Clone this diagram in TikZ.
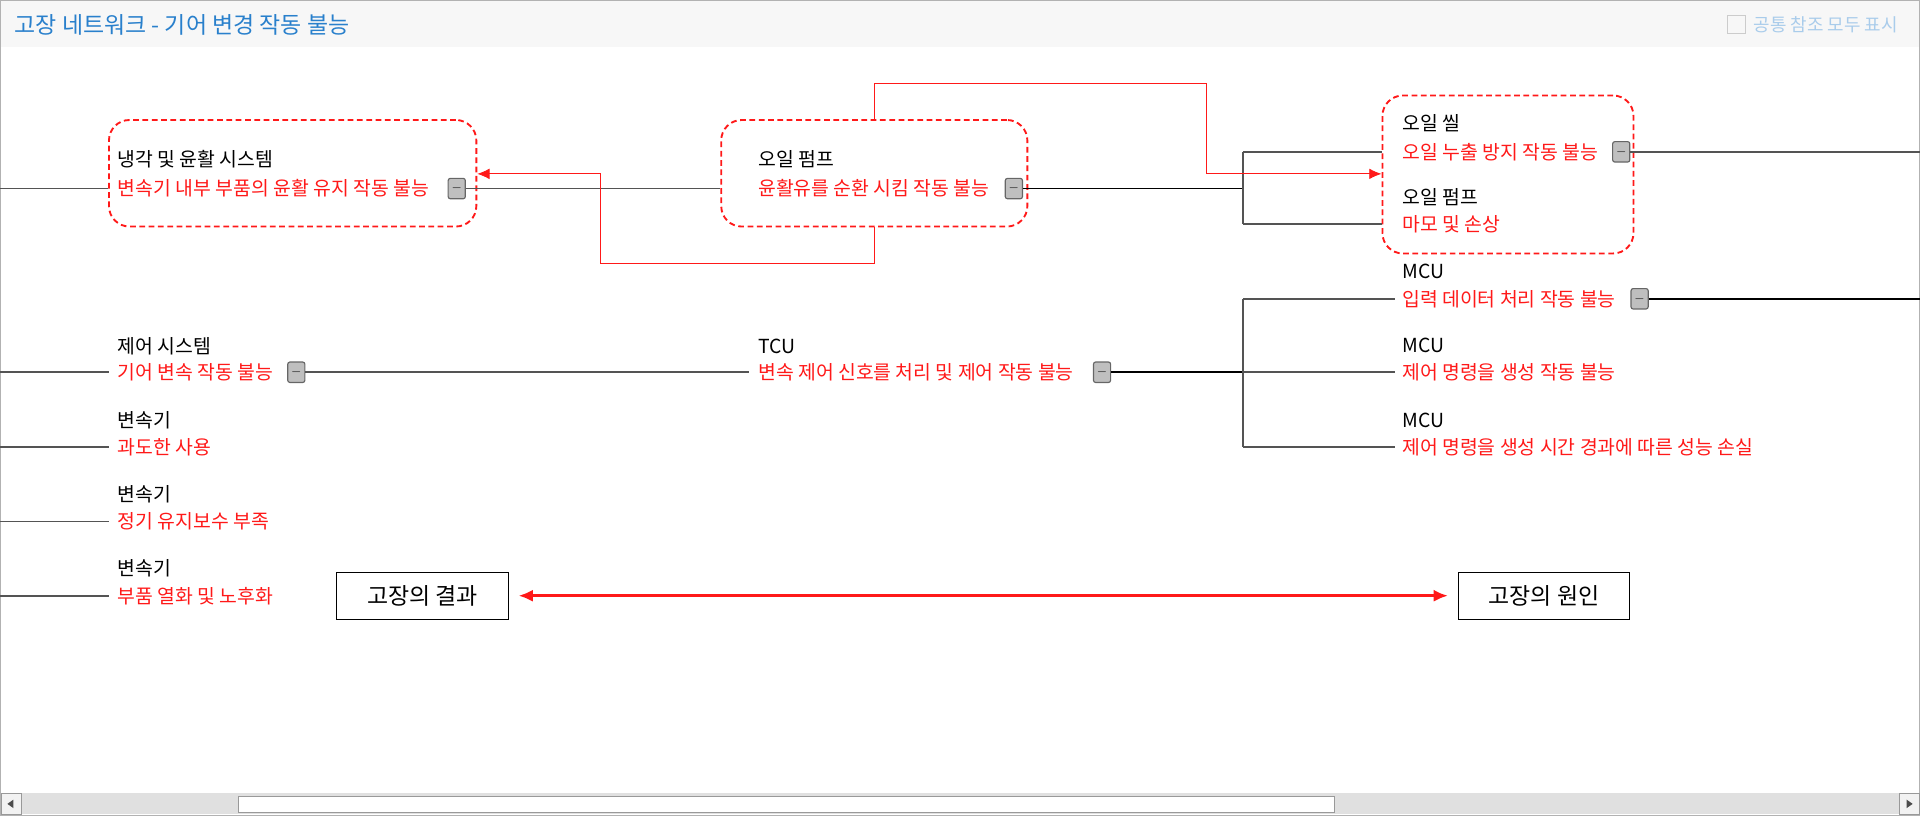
\documentclass[tikz,border=0pt]{standalone}
\usepackage{fontspec}
\setmainfont{Noto Sans CJK KR}
\usetikzlibrary{arrows.meta,positioning,calc}
\definecolor{titleblue}{rgb}{0.16, 0.50, 0.80}
\definecolor{linegray}{rgb}{0.33, 0.33, 0.33}
\definecolor{failred}{rgb}{1.0, 0.1, 0.1}
\tikzstyle{cmp} = [anchor=west, inner sep=0pt, font=\fontsize{13.5}{13.5}\selectfont, text=black]
\tikzstyle{fail} = [anchor=west, inner sep=0pt, font=\fontsize{13.5}{13.5}\selectfont, text=failred]
\tikzstyle{tgl} = [draw=black!60, fill=black!25, rounded corners=1.5pt, minimum width=4.2mm, minimum height=5mm, inner sep=0pt, font=\small, line width=0.8pt]
\tikzstyle{grp} = [draw=failred, dash pattern=on 4pt off 2.5pt, line width=1.3pt, rounded corners=5mm]
\tikzstyle{link} = [draw=linegray, line width=1.2pt]
\tikzstyle{ref} = [draw=failred, line width=0.6pt, -{Latex[length=3mm,width=2.6mm]}]
\tikzstyle{tag} = [draw=black, line width=0.9pt, minimum width=42mm, minimum height=11.5mm, font=\fontsize{16}{16}\selectfont, inner sep=0pt]
\begin{document}
\begin{tikzpicture}[x=0.3mm,y=-0.3mm]
\useasboundingbox (0,0) rectangle (1568,671);
% frame, title bar, scroll bar
\fill [black!3] (1,1) rectangle (1567,38);
\draw [black!30, line width=1pt] (0.5,0.5) rectangle (1567.5,666);
\node (title) [anchor=west, text=titleblue, font=\fontsize{16}{16}\selectfont] at (8,20) {고장 네트워크 - 기어 변경 작동 불능};
\node (chk) [draw=black!20, minimum size=4.5mm, inner sep=0pt] at (1418,20) {};
\node (showall) [anchor=west, text=titleblue!40, font=\fontsize{12.5}{12.5}\selectfont, inner sep=0pt] at (1432,20) {공통 참조 모두 표시};
\fill [black!12] (1,648) rectangle (1567,665);
\draw [black!40, fill=white] (195,650) rectangle (1090,663);
\draw [black!40, fill=black!5] (1,648) rectangle (17,665);
\draw [black!40, fill=black!5] (1551,648) rectangle (1567,665);
\fill [black!70] (6,656.5) -- (11,653) -- (11,660) -- cycle;
\fill [black!70] (1562,656.5) -- (1557,653) -- (1557,660) -- cycle;
%
% failure modes
\node (c1) [cmp] at (96,130) {냉각 및 윤활 시스템};
\node (f1) [fail] at (96,154) {변속기 내부 부품의 윤활 유지 작동 불능};
\node (t1) [tgl] at (373,154) {$-$};
\node (c2) [cmp] at (619,130) {오일 펌프};
\node (f2) [fail] at (619,154) {윤활유를 순환 시킴 작동 불능};
\node (t2) [tgl] at (828,154) {$-$};
\node (c3) [cmp] at (1145,101) {오일 씰};
\node (f3) [fail] at (1145,124) {오일 누출 방지 작동 불능};
\node (t3) [tgl] at (1324,124) {$-$};
\node (c4) [cmp] at (1145,161) {오일 펌프};
\node (f4) [fail] at (1145,183) {마모 및 손상};
\node (c5) [cmp] at (1145,222) {MCU};
\node (f5) [fail] at (1145,244) {입력 데이터 처리 작동 불능};
\node (t5) [tgl] at (1339,244) {$-$};
\node (c6) [cmp] at (1145,282) {MCU};
\node (f6) [fail] at (1145,304) {제어 명령을 생성 작동 불능};
\node (c7) [cmp] at (1145,343) {MCU};
\node (f7) [fail] at (1145,365) {제어 명령을 생성 시간 경과에 따른 성능 손실};
\node (c8) [cmp] at (96,283) {제어 시스템};
\node (f8) [fail] at (96,304) {기어 변속 작동 불능};
\node (t8) [tgl] at (242,304) {$-$};
\node (c9) [cmp] at (619,283) {TCU};
\node (f9) [fail] at (619,304) {변속 제어 신호를 처리 및 제어 작동 불능};
\node (t9) [tgl] at (900,304) {$-$};
\node (c10) [cmp] at (96,343) {변속기};
\node (f10) [fail] at (96,365) {과도한 사용};
\node (c11) [cmp] at (96,404) {변속기};
\node (f11) [fail] at (96,426) {정기 유지보수 부족};
\node (c12) [cmp] at (96,464) {변속기};
\node (f12) [fail] at (96,487) {부품 열화 및 노후화};
%
% dashed groups
\node (g1) [grp, minimum width=300*0.3mm, minimum height=87*0.3mm] at (239,141.5) {};
\node (g2) [grp, minimum width=250*0.3mm, minimum height=87*0.3mm] at (714,141.5) {};
\node (g3) [grp, minimum width=205*0.3mm, minimum height=129*0.3mm] at (1231.5,142.5) {};
%
% free ends
\coordinate (e1) at (0,154);
\coordinate (e8) at (0,304);
\coordinate (e10) at (0,365);
\coordinate (e11) at (0,426);
\coordinate (e12) at (0,487);
\coordinate (r3) at (1568,124);
\coordinate (r5) at (1568,244);
\coordinate (j1) at (1015,154);
\coordinate (j9) at (1015,304);
%
\draw [link] (e1) -- (g1.west |- f1.west);
\draw [link] (t1) -- (g2.west |- f2.west);
\draw [link, black] (t2) -- (j1);
\draw [link] (j1 |- f3) -- (j1 |- f4);
\draw [link] (j1 |- f3) -- (g3.west |- f3);
\draw [link] (j1 |- f4) -- (g3.west |- f4);
\draw [link] (t3) -- (r3);
\draw [link] (e8) -- ($(f8.west)+(-7,0)$);
\draw [link] (t8) -- ($(f9.west)+(-7,0)$);
\draw [link, black, line width=1.4pt] (t9) -- (j9);
\draw [link] (j9 |- f5) -- (j9 |- f7);
\draw [link] (j9 |- f5) -- ($(f5.west)+(-6,0)$);
\draw [link] (j9) -- ($(f6.west)+(-6,0)$);
\draw [link] (j9 |- f7) -- ($(f7.west)+(-6,0)$);
\draw [link, black, line width=1.6pt] (t5) -- (r5);
\draw [link] (e10) -- ($(f10.west)+(-7,0)$);
\draw [link] (e11) -- ($(f11.west)+(-7,0)$);
\draw [link] (e12) -- ($(f12.west)+(-7,0)$);
%
% references
\draw [ref] (g2.north) -- ++(0,-29) -| (985,142) -- (g3.west |- 0,142);
\draw [ref] (g2.south) -- ++(0,29) -| (490,142) -- (g1.east |- 0,142);
%
% legend
\node (effect) [tag] at (345,486.5) {고장의 결과};
\node (cause) [tag] at (1261,486.5) {고장의 원인};
\draw [failred, line width=2pt, {Latex[length=3.5mm,width=3mm]}-{Latex[length=3.5mm,width=3mm]}] ($(effect.east)+(8,0)$) -- ($(cause.west)+(-8,0)$);
\end{tikzpicture}
\end{document}
